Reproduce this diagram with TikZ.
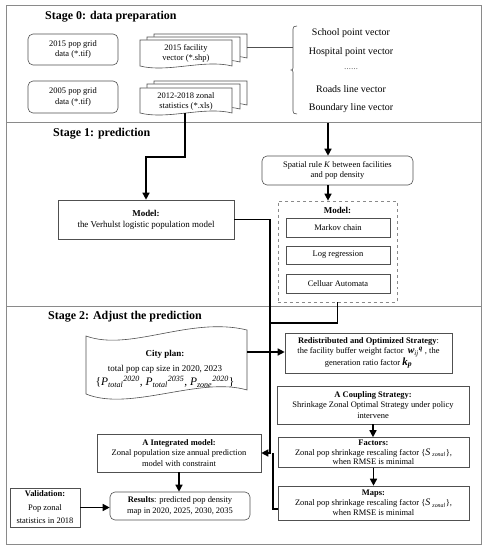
\documentclass[tikz,border=0pt]{standalone}
\usepackage{amsmath}
\usepackage{fontspec}
\setmainfont{Liberation Serif}
\usetikzlibrary{arrows.meta,calc}
\definecolor{boxgray}{HTML}{505050}
\definecolor{framegray}{HTML}{8A8A8A}
\newcommand\docpage[4]{%
  \filldraw[fill=white,draw=boxgray,line width=0.6bp]
    (#1,#2) -- (#3,#2) -- (#3,#4)
    .. controls ({#3-(#3-#1)*0.3},{#4-7}) and ({#1+(#3-#1)*0.3},{#4+7}) .. (#1,#4) -- cycle;}
\begin{document}
\begin{tikzpicture}[x=1bp,y=-1bp,
  txt/.style={font=\fontsize{8.5}{10}\selectfont, align=center, inner sep=0pt},
  box/.style={draw=boxgray, line width=0.6bp, fill=white, inner sep=1bp, align=center,
              font=\fontsize{8.5}{10.5}\selectfont},
  rbox/.style={box, rounded corners=5bp},
  stagetitle/.style={font=\fontsize{12}{14}\selectfont\bfseries, anchor=west, inner sep=0pt},
  listtxt/.style={font=\fontsize{10}{12}\selectfont, inner sep=0pt},
  conn/.style={line width=1.4bp, draw=black},
  arr/.style={conn, -{Triangle[length=7bp,width=7bp]}},
  thinline/.style={draw=boxgray, line width=0.6bp}]
\useasboundingbox (0,0) rectangle (488,550);
% stage frames
\draw[framegray, line width=1bp] (6,6) rectangle (481,544);
\draw[framegray, line width=1bp] (6,123) -- (481,123);
\draw[framegray, line width=1bp] (6,306) -- (481,306);
\node[stagetitle] (t0) at (45,17) {Stage 0: data preparation};
\node[stagetitle] (t1) at (53,134) {Stage 1: prediction};
\node[stagetitle] (t2) at (48,317) {Stage 2: Adjust the prediction};
% ---- stage 0
\node[rbox, minimum width=90bp, minimum height=31bp] (pop15) at (73,49.5) {2015 pop grid\\data (*.tif)};
\node[rbox, minimum width=90bp, minimum height=32bp] (pop05) at (73,97) {2005 pop grid\\data (*.tif)};
\docpage{154}{34}{247}{58}
\docpage{147}{37}{240}{62}
\docpage{140}{40}{232}{66}
\node[txt] (fac) at (186,53) {2015 facility\\vector (*.shp)};
\docpage{154}{81}{247}{105}
\docpage{147}{84}{240}{109}
\docpage{140}{88}{232}{113}
\node[txt] (zonal) at (186,101) {2012-2018 zonal\\statistics (*.xls)};
\coordinate (facE) at (247,47);
\coordinate (brk) at (293,47);
\coordinate (zonalS) at (185,113);
\draw[thinline] (facE) -- (brk);
\draw[thinline] (297,26) .. controls (294,26) and (293,27) .. (293,29) -- (293,68)
  .. controls (293,69.5) and (292,70) .. (291,70) .. controls (292,70) and (293,70.5) .. (293,72)
  -- (293,111) .. controls (293,113) and (294,114) .. (297,114);
\node[listtxt] (l1) at (351,33) {School point vector};
\node[listtxt] (l2) at (351,52) {Hospital point vector};
\node[listtxt, font=\fontsize{7}{8}\selectfont] (l3) at (351,69) {……};
\node[listtxt] (l4) at (351,89) {Roads line vector};
\node[listtxt] (l5) at (351,108) {Boundary line vector};
% ---- stage 1
\node[box, minimum width=176bp, minimum height=39bp, font=\fontsize{9}{11}\selectfont] (verh) at (146,219.5)
  {\textbf{Model:}\\the Verhulst logistic population model};
\node[rbox, minimum width=151bp, minimum height=29bp] (spatial) at (337.5,170.5)
  {Spatial rule \textit{K} between facilities\\and pop density};
\node[draw=framegray, dashed, line width=0.7bp, minimum width=119bp, minimum height=101bp] (dbox) at (337.5,251.5) {};
\node[txt, font=\fontsize{9}{10}\selectfont\bfseries] (mlab) at (337.5,210) {Model:};
\node[box, minimum width=104bp, minimum height=19bp] (markov) at (338,227.5) {Markov chain};
\node[box, minimum width=104bp, minimum height=18bp] (logr) at (338,255) {Log regression};
\node[box, minimum width=104bp, minimum height=19bp] (cell) at (338,283.5) {Celluar Automata};
\coordinate (s1top) at (328,123);
\draw[arr] (zonalS) -- (zonalS |- 0,157) -| (verh.north);
\draw[arr] (s1top) -- (s1top |- spatial.north);
\draw[arr] (spatial.south -| s1top) -- (s1top |- dbox.north);
% ---- stage 2
\draw[boxgray, fill=white, line width=0.6bp] (86,336) .. controls (130,352) and (190,316) .. (247,330)
  -- (247,390) .. controls (200,376) and (130,412) .. (86,394) -- cycle;
\node[txt, font=\fontsize{9}{11}\selectfont] (city) at (165,369)
  {\textbf{City plan:}\\[4bp]total pop cap size in 2020, 2023\\[2bp]
   {\fontsize{11.5}{13}\selectfont \{${\textit{P}_{\textit{total}}}^{\textit{2020}}$,\ ${\textit{P}_{\textit{total}}}^{\textit{2035}}$,\ ${\textit{P}_{\textit{zone}}}^{\textit{2020}}$\}}};
\coordinate (cityE) at (247,352);
\node[box, minimum width=167bp, minimum height=40bp] (redis) at (368.5,353)
  {\textbf{Redistributed and Optimized Strategy}:\\
   the facility buffer weight factor \ {\fontsize{10}{10}\selectfont${\textbf{\textit{w}}_{\textit{ij}}}^{\textbf{\textit{q}}}$} , the\\
   generation ratio factor {\fontsize{11}{11}\selectfont$\textbf{\textit{k}}_{\textbf{\textit{p}}}$}};
\node[box, minimum width=192bp, minimum height=38bp] (coup) at (373,405)
  {\textbf{A Coupling Strategy:}\\Shrinkage Zonal Optimal Strategy under policy\\intervene};
\node[box, minimum width=191bp, minimum height=30bp, font=\fontsize{8.5}{9.5}\selectfont] (fact) at (373.5,452.5)
  {\textbf{Factors:}\\Zonal pop shrinkage rescaling factor \{{\fontsize{10}{10}\selectfont\textit{S}} $_{\textit{zonal}}$\},\\when RMSE is minimal};
\node[box, minimum width=191bp, minimum height=34bp, font=\fontsize{8.5}{10}\selectfont] (maps) at (373.5,503)
  {\textbf{Maps:}\\Zonal pop shrinkage rescaling factor \{{\fontsize{10}{10}\selectfont\textit{S}} $_{\textit{zonal}}$\},\\when RMSE is minimal};
\node[box, minimum width=164bp, minimum height=38bp] (integ) at (179,453)
  {\textbf{A Integrated model:}\\Zonal population size annual prediction\\model with constraint};
\node[rbox, minimum width=140bp, minimum height=28bp] (res) at (180,506)
  {\textbf{Results}: predicted pop density\\map in 2020, 2025, 2030, 2035};
\node[box, minimum width=70bp, minimum height=39bp, font=\fontsize{8.5}{13.5}\selectfont] (valid) at (45,507.5)
  {\textbf{Validation:}\\Pop zonal\\statistics in 2018};
\coordinate (j1) at (270,453);
\coordinate (j2) at (270,323);
\coordinate (j3) at (273,453);
\draw[conn] (dbox.south) |- (j2);
\draw[conn] ([yshift=-6bp]maps.west) -| (j3);
\draw[arr] (verh.east) -| (j1) -- (integ.east);
\draw[arr] (cityE) -- (cityE -| redis.west);
\draw[arr] (coup.south) -- (coup.south |- fact.north);
\draw[arr] (fact.south) -- (maps.north);
\draw[arr] (integ.south) -- (integ.south |- res.north);
\draw[arr] (valid.east) -- (valid.east -| res.west);
\end{tikzpicture}
\end{document}
